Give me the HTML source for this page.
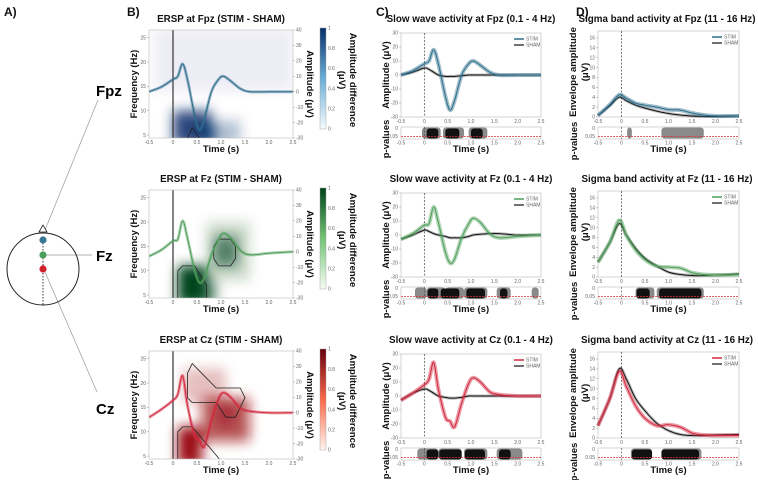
<!DOCTYPE html>
<html><head><meta charset="utf-8">
<style>
body{margin:0;background:#fff;}
svg{display:block;font-family:"Liberation Sans",sans-serif;}
.tk{font-size:5px;fill:#666;}
.tt{font-size:9.8px;font-weight:bold;fill:#111;}
.al{font-size:9.5px;font-weight:bold;fill:#111;}
.pl{font-size:12px;font-weight:bold;fill:#111;}
</style></head>
<body>
<svg id="fig" width="758" height="480" viewBox="0 0 758 480" xmlns="http://www.w3.org/2000/svg">
<defs>
<filter id="blur" filterUnits="userSpaceOnUse" x="0" y="0" width="758" height="480"><feGaussianBlur stdDeviation="6"/></filter>
<linearGradient id="cbBlue" x1="0" y1="1" x2="0" y2="0"><stop offset="0" stop-color="#f7fbff"/><stop offset="0.5" stop-color="#6baed6"/><stop offset="1" stop-color="#08306b"/></linearGradient>
<linearGradient id="cbGreen" x1="0" y1="1" x2="0" y2="0"><stop offset="0" stop-color="#f7fcf5"/><stop offset="0.5" stop-color="#74c476"/><stop offset="1" stop-color="#00441b"/></linearGradient>
<linearGradient id="cbRed" x1="0" y1="1" x2="0" y2="0"><stop offset="0" stop-color="#fff5f0"/><stop offset="0.5" stop-color="#fb6a4a"/><stop offset="1" stop-color="#67000d"/></linearGradient>
</defs>
<g>
<text x="4" y="16" class="pl">A)</text>
<line x1="45" y1="230" x2="98" y2="100" stroke="#999" stroke-width="0.7"/>
<line x1="43" y1="255" x2="92" y2="255" stroke="#999" stroke-width="0.7"/>
<line x1="45" y1="272" x2="97" y2="392" stroke="#999" stroke-width="0.7"/>
<circle cx="43" cy="269" r="36" fill="none" stroke="#222" stroke-width="1"/>
<polygon points="39,232 43,225 47,232" fill="#fff" stroke="#222" stroke-width="0.8"/>
<line x1="43" y1="240" x2="43" y2="305" stroke="#333" stroke-width="1" stroke-dasharray="1.5,1.5"/>
<circle cx="43" cy="240" r="3.6" fill="#3a7797"/>
<circle cx="43" cy="255" r="3.6" fill="#4a9d5b"/>
<circle cx="43" cy="269" r="3.6" fill="#d0212a"/>
<text x="96" y="96" font-size="15" font-weight="bold">Fpz</text>
<text x="96" y="261" font-size="15" font-weight="bold">Fz</text>
<text x="96" y="414" font-size="15" font-weight="bold">Cz</text>
</g>
<text x="127" y="16" class="pl">B)</text>
<text x="376" y="16" class="pl">C)</text>
<text x="576" y="16" class="pl">D)</text>
</svg>
<script>
// ---- data ----
const swTimes = [-0.5,-0.25,0,0.1,0.2,0.3,0.45,0.55,0.65,0.8,0.95,1.05,1.2,1.4,1.6,2.0,2.5];
const swStimFpz = [0,3,8,10,18,8,-15,-25,-18,0,8,10,7,2,0,0,0];
const swShamFpz = [0,2,5,4,2,0,-1,-1,-1,-0.5,0,0,0,0,0,0,0];
const swStimFz = [-3,1,7,8,20,9,-12,-20,-17,-2,8,12,9,1,-2,-1,0];
const swShamFz = [-3,0,3.5,2.5,1,0,-1,-2,-2,-2,-1,0,0.5,1,1,0,0];
const swStimCz = [-3,2,8,12,24,5,-15,-18,-22,-5,9,13,10,3,1,0,0];
const swShamCz = [-3,2,5,4,2,0,-1,-1.5,-1.5,-1,0,0,0,0,0,0,0];
const sgTimes = [-0.5,-0.25,-0.05,0.1,0.3,0.5,0.75,1.0,1.25,1.5,1.75,2.0,2.5];
const sgStimFpz = [0.3,2.5,4.5,3.8,2.8,2.4,2.0,1.5,1.4,0.8,0.4,0.2,0.2];
const sgShamFpz = [0.3,2.3,4.0,3.3,2.4,1.8,1.2,0.7,0.4,0.2,0.1,0.1,0.2];
const sgStimFz = [3,7,11.5,8.5,5.5,3.5,2.2,2.0,1.8,0.9,0.5,0.4,0.5];
const sgShamFz = [3,7,10.8,8.5,5.8,3.8,2.2,1.0,0.5,0.3,0.3,0.4,0.6];
const sgStimCz = [2.5,8,13.5,10.5,6.5,4,2.5,2.7,2.2,1.0,0.6,0.5,0.5];
const sgShamCz = [2.5,8,14,12,8,5.5,3,1.5,0.7,0.5,0.5,0.6,0.7];
// p-value significant intervals [t0,t1]
const pGrayC_Fpz = [[-0.05,0.35],[0.4,0.85],[0.95,1.35]];
const pBlackC_Fpz = [[0.05,0.3],[0.45,0.75],[1.0,1.25]];
const pGrayD_Fpz = [[0.12,0.22],[0.85,1.75]];
const pBlackD_Fpz = [];
const pGrayC_Fz = [[-0.2,0.05],[0.05,0.45],[0.45,0.85],[0.85,1.35],[1.55,1.85],[2.3,2.45]];
const pBlackC_Fz = [[0.07,0.3],[0.35,0.75],[0.9,1.3],[1.62,1.78]];
const pGrayD_Fz = [[0.3,0.7],[0.75,1.75]];
const pBlackD_Fz = [[0.32,0.6],[0.8,1.7]];
const pGrayC_Cz = [[-0.15,0.3],[0.3,0.8],[0.85,1.35],[1.55,2.1]];
const pBlackC_Cz = [[0.05,0.3],[0.32,0.8],[0.87,1.3],[1.6,1.85]];
const pGrayD_Cz = [[0.2,0.65],[0.85,1.7]];
const pBlackD_Cz = [[0.22,0.65],[0.85,1.65]];
// ERSP blobs [t0,t1,f0,f1,intensity]
const erspFpz = [[0.0,0.8,3,10,0.85],[0.3,0.9,3,7,0.6],[-0.4,2.5,14,27,0.07],[0.6,1.4,3,8,0.3]];
const erspFz = [[0.1,0.7,3,11,1.0],[0.5,0.9,3,8,0.6],[0.85,1.35,11,17,0.6],[0.7,1.6,8,20,0.2]];
const erspCz = [[0.1,0.6,3,11,1.0],[0.6,1.6,8,17,0.7],[0.2,1.1,16,23,0.25],[0.9,1.3,11,16,0.5]];
const contFz = [[[0.1,4],[0.1,10],[0.2,11],[0.45,11],[0.7,7],[0.7,4]],[[0.85,15],[0.95,16.5],[1.2,16.5],[1.3,15],[1.3,12.5],[1.2,11],[0.95,11],[0.85,12.5]]];
const contCz = [[[0.1,4],[0.1,10],[0.2,11],[0.4,11],[1.0,4]],[[0.3,22],[0.4,24],[0.9,19],[1.4,19],[1.5,17],[1.3,13],[1.1,13],[0.9,16],[0.4,16],[0.3,17]]];
const contFpz = [[[0.3,4.4],[0.4,6.5],[0.55,4.4]]];

const NS='http://www.w3.org/2000/svg';
const svg=document.getElementById('fig');
function el(tag,attrs,parent){const e=document.createElementNS(NS,tag);for(const k in attrs)e.setAttribute(k,attrs[k]);(parent||svg).appendChild(e);return e;}
function txt(x,y,s,cls,parent,extra){const t=el('text',Object.assign({x:x,y:y,class:cls},extra||{}),parent);t.textContent=s;return t;}
function lin(d0,d1,r0,r1){return v=>r0+(v-d0)/(d1-d0)*(r1-r0);}
function smoothPath(ts,vs,X,Y){
  const p=ts.map((t,i)=>[X(t),Y(vs[i])]);let d='M'+p[0][0].toFixed(1)+','+p[0][1].toFixed(1);
  for(let i=0;i<p.length-1;i++){const p0=p[i-1]||p[i],p1=p[i],p2=p[i+1],p3=p[i+2]||p2;
    const c1=[p1[0]+(p2[0]-p0[0])/6,p1[1]+(p2[1]-p0[1])/6],c2=[p2[0]-(p3[0]-p1[0])/6,p2[1]-(p3[1]-p1[1])/6];
    d+=' C'+c1.map(v=>v.toFixed(1)).join(',')+' '+c2.map(v=>v.toFixed(1)).join(',')+' '+p2.map(v=>v.toFixed(1)).join(',');}
  return d;}
const tTicks=[-0.5,0,0.5,1.0,1.5,2.0,2.5];
const tLabels=['-0.5','0','0.5','1.0','1.5','2.0','2.5'];

const rows=[
 {name:'fpz',lab:'Fpz',off:0,col:'#2f6e8c',cb:'url(#cbBlue)',blobCol:'#08306b',ersp:erspFpz,cont:contFpz,sw:[swStimFpz,swShamFpz],sg:[sgStimFpz,sgShamFpz],pc:[pGrayC_Fpz,pBlackC_Fpz],pd:[pGrayD_Fpz,pBlackD_Fpz]},
 {name:'fz',lab:'Fz',off:160,col:'#4f9f5a',cb:'url(#cbGreen)',blobCol:'#00441b',ersp:erspFz,cont:contFz,sw:[swStimFz,swShamFz],sg:[sgStimFz,sgShamFz],pc:[pGrayC_Fz,pBlackC_Fz],pd:[pGrayD_Fz,pBlackD_Fz]},
 {name:'cz',lab:'Cz',off:321,col:'#d2283f',cb:'url(#cbRed)',blobCol:'#9b0d14',ersp:erspCz,cont:contCz,sw:[swStimCz,swShamCz],sg:[sgStimCz,sgShamCz],pc:[pGrayC_Cz,pBlackC_Cz],pd:[pGrayD_Cz,pBlackD_Cz]}
];

rows.forEach(r=>{
 const o=r.off;
 const gB=el('g',{});
 
 
 const bx0=149,bx1=293,by0=30+o,by1=138+o;
 const X=lin(-0.5,2.5,bx0,bx1), F=lin(4.4,26.6,by1,by0), A=lin(-30,40,by1,by0);
 const t1=txt(221,22+o,'ERSP at '+r.lab+' (STIM - SHAM)','tt',gB,{'text-anchor':'middle'});
 
 const cp=el('clipPath',{id:'clip'+r.name},gB);el('rect',{x:bx0,y:by0,width:bx1-bx0,height:by1-by0},cp);
 const hg=el('g',{'clip-path':'url(#clip'+r.name+')'},gB);
 el('rect',{x:bx0,y:by0,width:bx1-bx0,height:by1-by0,fill:'#fff'},hg);
 const bg=el('g',{filter:'url(#blur)'},hg);
 r.ersp.forEach(b=>{const c=el('rect',{x:X(b[0]),y:F(b[3]),width:X(b[1])-X(b[0]),height:F(b[2])-F(b[3]),fill:r.blobCol,'fill-opacity':b[4]},bg);
   });
 r.cont.forEach(poly=>{const c=el('polygon',{points:poly.map(p=>X(p[0]).toFixed(1)+','+F(p[1]).toFixed(1)).join(' '),fill:'none',stroke:'#222','stroke-width':0.8},hg);
   });
 el('line',{x1:X(0),y1:by0,x2:X(0),y2:by1,stroke:'#333','stroke-width':1.2},hg);
 el('path',{d:smoothPath(swTimes,r.sw[0],X,A),fill:'none',stroke:r.col,'stroke-width':3,'stroke-opacity':0.45},hg);
 const ov=el('path',{d:smoothPath(swTimes,r.sw[0],X,A),fill:'none',stroke:r.col,'stroke-width':1},hg);
 
 el('rect',{x:bx0,y:by0,width:bx1-bx0,height:by1-by0,fill:'none',stroke:'#bbb','stroke-width':0.6},gB);
 tTicks.forEach((t,i)=>txt(X(t),by1+6,tLabels[i],'tk',gB,{'text-anchor':'middle'}));
 [5,10,15,20,25].forEach(f=>{el('line',{x1:bx0-2,x2:bx0,y1:F(f),y2:F(f),stroke:'#999','stroke-width':0.5},gB);txt(bx0-3,F(f)+1.7,String(f),'tk',gB,{'text-anchor':'end'});});
 [40,30,20,10,0,-10,-20,-30].forEach(a=>{el('line',{x1:bx1,x2:bx1+2,y1:A(a),y2:A(a),stroke:'#999','stroke-width':0.5},gB);txt(bx1+3,A(a)+1.7,String(a),'tk',gB);});
 txt(221,152+o,'Time (s)','al',gB,{'text-anchor':'middle'});
 txt(0,0,'Frequency (Hz)','al',gB,{'text-anchor':'middle',transform:'translate(137,'+(84+o)+') rotate(-90)'});
 txt(0,0,'Amplitude (μV)','al',gB,{'text-anchor':'middle',transform:'translate(307,'+(84+o)+') rotate(90)'});
 const cb=el('rect',{x:320,y:28+o,width:6,height:101,fill:r.cb,stroke:'#999','stroke-width':0.4},gB);
 
 [0,0.2,0.4,0.6,0.8,1].forEach(v=>txt(328,129+o-v*101+1.7,String(v),'tk',gB));
 txt(0,0,'Amplitude difference','al',gB,{'text-anchor':'middle',transform:'translate(350,'+(80+o)+') rotate(90)'});
 txt(0,0,'(μV)','al',gB,{'text-anchor':'middle',transform:'translate(339,'+(80+o)+') rotate(90)'});

 [['c',401,541,[30,20,10,0,-10,-20,-30],swTimes,r.sw,r.pc,'Slow wave activity at '+r.lab+' (0.1 - 4 Hz)',471],
  ['d',598,739,[0,2,4,6,8,10,12,14,16],sgTimes,r.sg,r.pd,'Sigma band activity at '+r.lab+' (11 - 16 Hz)',667]].forEach(P=>{
  const [k,x0,x1,yt,ts,ser,pv,title,tcx]=P;
  const g=el('g',{});
  
  
  const y0=(k==='c'?33:31)+o,y1=117+o;
  const Xc=lin(-0.5,2.5,x0,x1);
  const Yc=k==='c'?lin(-30,30,117+o,33+o):lin(0,16,117+o,38+o);
  txt(tcx,22+o,title,'tt',g,{'text-anchor':'middle'});
  el('rect',{x:x0,y:y0,width:x1-x0,height:y1-y0,fill:'#fff',stroke:'#bbb','stroke-width':0.6},g);
  el('line',{x1:Xc(0),x2:Xc(0),y1:y0,y2:y1,stroke:'#444','stroke-width':0.7,'stroke-dasharray':'2,1.5'},g);
  el('path',{d:smoothPath(ts,ser[1],Xc,Yc),fill:'none',stroke:'#222','stroke-width':3,'stroke-opacity':0.3},g);
  const sh=el('path',{d:smoothPath(ts,ser[1],Xc,Yc),fill:'none',stroke:'#111','stroke-width':1},g);
  
  el('path',{d:smoothPath(ts,ser[0],Xc,Yc),fill:'none',stroke:r.col,'stroke-width':4,'stroke-opacity':0.45},g);
  const st=el('path',{d:smoothPath(ts,ser[0],Xc,Yc),fill:'none',stroke:r.col,'stroke-width':1},g);
  
  yt.forEach(v=>{el('line',{x1:x0-2,x2:x0,y1:Yc(v),y2:Yc(v),stroke:'#999','stroke-width':0.5},g);txt(x0-3,Yc(v)+1.7,String(v),'tk',g,{'text-anchor':'end'});});
  tTicks.forEach((t,i)=>txt(Xc(t),y1+6,tLabels[i],'tk',g,{'text-anchor':'middle'}));
  const lg=el('g',{},g);
  
  
  el('line',{x1:x1-27,x2:x1-17,y1:y0+6,y2:y0+6,stroke:r.col,'stroke-width':1.5},lg);
  txt(x1-15,y0+7.7,'STIM','tk',lg);
  el('line',{x1:x1-27,x2:x1-17,y1:y0+12,y2:y0+12,stroke:'#111','stroke-width':1.2},lg);
  txt(x1-15,y0+13.7,'SHAM','tk',lg);
  const py0=127+o,py1=139+o;
  const pg=el('g',{},g);
  
  
  el('rect',{x:x0,y:py0,width:x1-x0,height:py1-py0,fill:'#fff',stroke:'#bbb','stroke-width':0.6},pg);
  pv[0].forEach(iv=>el('rect',{x:Xc(iv[0]),y:py0+0.5,width:Xc(iv[1])-Xc(iv[0]),height:py1-py0-1,rx:3,fill:'#8a8a8a'},pg));
  pv[1].forEach(iv=>el('rect',{x:Xc(iv[0]),y:py0+1.5,width:Xc(iv[1])-Xc(iv[0]),height:py1-py0-2,rx:3,fill:'#111'},pg));
  el('line',{x1:x0,x2:x1,y1:py1-2.5,y2:py1-2.5,stroke:'#d33','stroke-width':0.7,'stroke-dasharray':'2,1'},pg);
  el('line',{x1:Xc(0),x2:Xc(0),y1:py0,y2:py1,stroke:'#444','stroke-width':0.6,'stroke-dasharray':'2,1.5'},pg);
  txt(x0-3,py0+3,'0','tk',pg,{'text-anchor':'end'});
  txt(x0-3,py1-1,'0.05','tk',pg,{'text-anchor':'end'});
  tTicks.forEach((t,i)=>txt(Xc(t),py1+5.5,tLabels[i],'tk',pg,{'text-anchor':'middle'}));
  txt((x0+x1)/2,152+o,'Time (s)','al',g,{'text-anchor':'middle'});
  if(k==='c'){
    txt(0,0,'Amplitude (μV)','al',g,{'text-anchor':'middle',transform:'translate(389,'+(75+o)+') rotate(-90)'});
    txt(0,0,'p-values','al',g,{'text-anchor':'middle',transform:'translate(389,'+(139+o)+') rotate(-90)'});
  } else {
    txt(0,0,'Envelope amplitude','al',g,{'text-anchor':'middle',transform:'translate(576,'+(72+o)+') rotate(-90)'});
    txt(0,0,'(μV)','al',g,{'text-anchor':'middle',transform:'translate(588,'+(72+o)+') rotate(-90)'});
    txt(0,0,'p-values','al',g,{'text-anchor':'middle',transform:'translate(577,'+(141+o)+') rotate(-90)'});
  }
 });
});
</script>
</body></html>
